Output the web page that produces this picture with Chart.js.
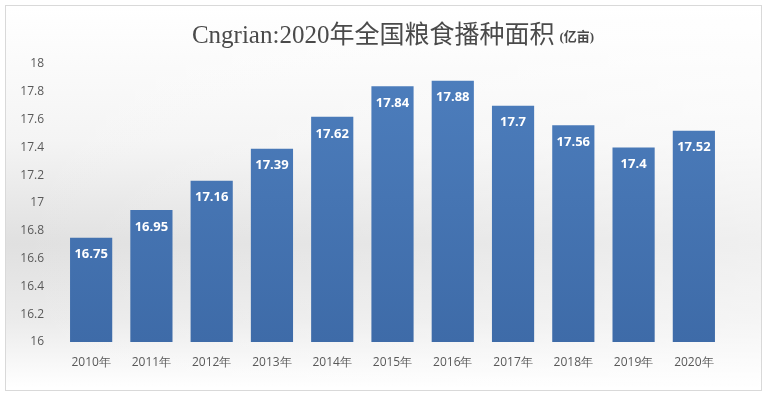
<!DOCTYPE html>
<html><head><meta charset="utf-8">
<script src="https://cdn.jsdelivr.net/npm/chart.js@4/dist/chart.umd.min.js"></script>
<style>html,body{margin:0;padding:0;background:#fff}#wrap{width:767px;height:396px;position:relative}</style>
</head><body><div id="wrap"><canvas id="c" width="767" height="396"></canvas></div>
<script>
const categories = ["2010年","2011年","2012年","2013年","2014年","2015年","2016年","2017年","2018年","2019年","2020年"];
const areaValues = [16.75,16.95,17.16,17.39,17.62,17.84,17.88,17.7,17.56,17.4,17.52];
const valueLabels = ["16.75","16.95","17.16","17.39","17.62","17.84","17.88","17.7","17.56","17.4","17.52"];
const titleMain = "Cngrian:2020年全国粮食播种面积";
const titleUnit = "(亿亩)";
const yTickLabels = {16:"16",16.2:"16.2",16.4:"16.4",16.6:"16.6",16.8:"16.8",17:"17",17.2:"17.2",17.4:"17.4",17.6:"17.6",17.8:"17.8",18:"18"};

const bgPlugin = {
  id:'bg',
  beforeDraw(chart){
    const ctx=chart.ctx, W=chart.width, H=chart.height;
    ctx.save();
    ctx.fillStyle='#fff'; ctx.fillRect(0,0,W,H);
    const g=ctx.createLinearGradient(0,8,0,388);
    g.addColorStop(0,'#ffffff');
    g.addColorStop(0.35,'#f4f4f4');
    g.addColorStop(0.62,'#e0e0e0');
    g.addColorStop(0.82,'#ebebeb');
    g.addColorStop(1,'#ffffff');
    ctx.fillStyle=g; ctx.fillRect(6,6,W-12,H-12);
    const g2=ctx.createLinearGradient(6,0,W-6,0);
    g2.addColorStop(0,'rgba(255,255,255,0)');
    g2.addColorStop(0.6,'rgba(255,255,255,0.25)');
    g2.addColorStop(1,'rgba(255,255,255,0.5)');
    ctx.fillStyle=g2; ctx.fillRect(6,6,W-12,H-12);
    ctx.strokeStyle='#d9d9d9'; ctx.lineWidth=1;
    ctx.strokeRect(5.5,5.5,W-11,H-11);
    // title
    ctx.textBaseline='middle';
    ctx.fillStyle='#4a4a4a';
    const f1='25px "Liberation Serif","Noto Sans CJK SC",serif';
    const f2='bold 13px "Liberation Serif","Noto Sans CJK SC",serif';
    ctx.font=f1;
    const w1=ctx.measureText(titleMain).width;
    ctx.font=f2;
    const w2=ctx.measureText(titleUnit).width;
    const total=w1+5+w2;
    const x0=393-total/2;
    ctx.font=f1;
    ctx.textAlign='left';
    ctx.fillText(titleMain,x0,36);
    ctx.font=f2;
    ctx.fillText(titleUnit,x0+w1+5,38);
    ctx.restore();
  }
};
const shadowPlugin = {
  id:'shadow',
  beforeDatasetsDraw(chart){
    const ctx=chart.ctx; const meta=chart.getDatasetMeta(0);
    ctx.save();
    meta.data.forEach(b=>{
      const w=b.width, x=b.x-w/2, base=b.base;
      const g=ctx.createLinearGradient(0,base-32,0,base);
      g.addColorStop(0,'rgba(110,110,110,0)');
      g.addColorStop(1,'rgba(110,110,110,0.45)');
      ctx.fillStyle=g;
      ctx.beginPath();
      ctx.moveTo(x,base); ctx.lineTo(x-24,base); ctx.lineTo(x-2,base-32); ctx.lineTo(x,base-32); ctx.closePath();
      ctx.fill();
    });
    ctx.restore();
  },
  afterDatasetsDraw(chart){
    const ctx=chart.ctx; const meta=chart.getDatasetMeta(0);
    ctx.save();
    ctx.fillStyle='#ffffff';
    ctx.font='bold 13px "Open Sans","DejaVu Sans",sans-serif';
    ctx.textAlign='center'; ctx.textBaseline='middle';
    meta.data.forEach((b,i)=>{ ctx.fillText(valueLabels[i], b.x, b.y+17); });
    ctx.restore();
  }
};
const ctx=document.getElementById('c').getContext('2d');
new Chart(ctx,{
  type:'bar',
  data:{labels:categories,datasets:[{data:areaValues,
    backgroundColor(c){const a=c.chart.chartArea; if(!a) return '#4a7ab8';
      const g=c.chart.ctx.createLinearGradient(0,a.top,0,a.bottom);
      g.addColorStop(0,'#4d7ebd'); g.addColorStop(1,'#3e6ba8'); return g;},
    borderWidth:0, categoryPercentage:1, barPercentage:0.7}]},
  options:{
    responsive:false, animation:false,
    layout:{padding:{left:0,right:43,top:64,bottom:0}},
    plugins:{legend:{display:false},tooltip:{enabled:false},title:{display:false}},
    scales:{
      x:{grid:{display:false},border:{display:false},
        ticks:{color:'#595959',font:{size:12,family:'"Open Sans","DejaVu Sans",sans-serif'},padding:5},
        afterFit(s){s.height=54;}},
      y:{min:16,max:18,grid:{display:false},border:{display:false},
        ticks:{stepSize:0.2,color:'#595959',font:{size:12,family:'"Open Sans","DejaVu Sans",sans-serif'},padding:9,
          callback(v){const k=Math.round(v*10)/10; return yTickLabels[k]!==undefined?yTickLabels[k]:'';}},
        afterFit(s){s.width=61;}}
    }
  },
  plugins:[bgPlugin,shadowPlugin]
});
</script></body></html>
